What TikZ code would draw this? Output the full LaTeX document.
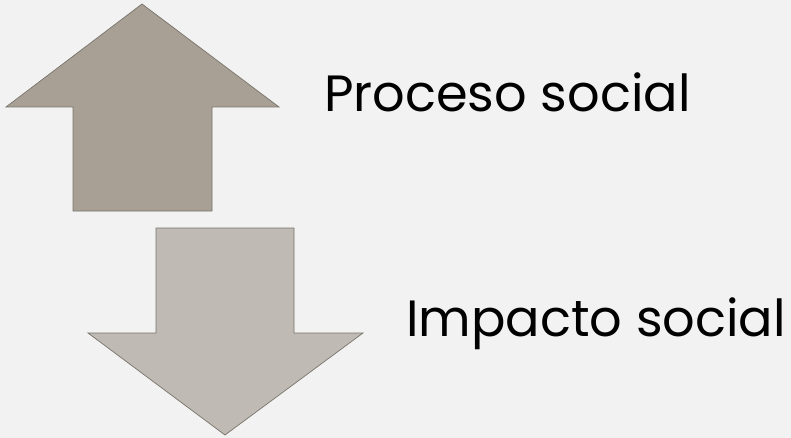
\documentclass[tikz,border=0pt]{standalone}
\usepackage{fontspec}
\setmainfont{Poppins}
\definecolor{bg}{HTML}{F2F2F2}
\definecolor{upfill}{RGB}{168,160,148}
\definecolor{downfill}{RGB}{191,186,179}
\definecolor{edge}{RGB}{120,116,108}
\begin{document}
\begin{tikzpicture}[x=1pt,y=-1pt,
  arrowshape/.style={draw=edge,line width=0.7pt,line join=miter},
  label/.style={anchor=base west,inner sep=0pt,font=\fontsize{51}{60}\selectfont,text=black}]
\fill[bg] (0,0) rectangle (791,438);
\useasboundingbox (0,0) rectangle (791,438);
\draw[arrowshape,fill=upfill] (142,4) -- (279,107) -- (212,107) -- (212,211) -- (73,211) -- (73,107) -- (6,107) -- cycle;
\draw[arrowshape,fill=downfill] (156,228) -- (294,228) -- (294,333) -- (363,333) -- (225,435) -- (88,333) -- (156,333) -- cycle;
\node[label] (proceso) at (324,112) {Proceso social};
\node[label] (impacto) at (406,336) {Impacto social};
\end{tikzpicture}
\end{document}
